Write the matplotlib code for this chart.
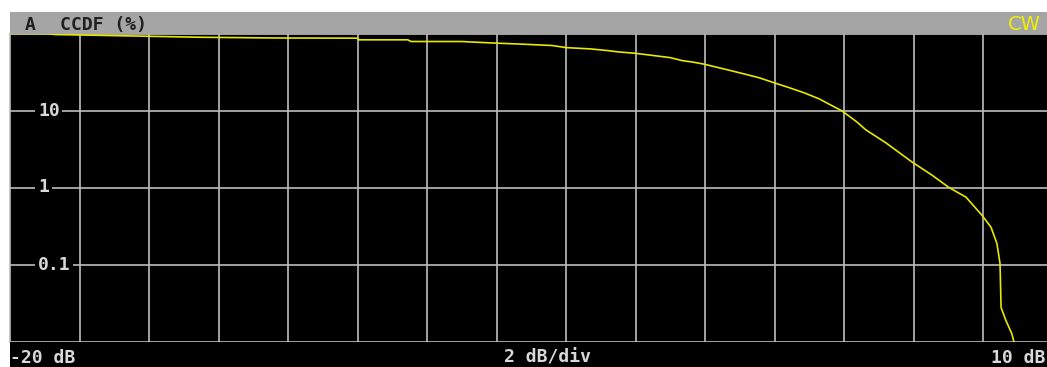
import matplotlib
matplotlib.use("Agg")
import matplotlib.pyplot as plt
from matplotlib.patches import Rectangle

# CCDF trace, level relative to mean power (dB) vs probability (%)
ccdf_db = [-20.0, -18.9, -18.7, -16.4, -14.6, -12.3, -10.0, -9.96, -8.55, -8.46,
           -7.0, -6.2, -5.2, -4.4, -4.0, -3.3, -2.8, -2.5, -2.0, -1.7,
           -1.4, -1.0, -0.66, -0.32, -0.03, 0.55, 0.98, 1.55, 1.99, 2.42,
           2.85, 3.28, 3.71, 3.94, 4.37, 4.63, 5.21, 5.96, 6.53, 7.02,
           7.51, 7.97, 8.23, 8.40, 8.49, 8.52, 8.66, 8.83, 8.89]
ccdf_pct = [100, 99.1, 97.0, 92.8, 89.5, 87.4, 87.0, 82.8, 82.8, 78.7,
            78.7, 75.6, 72.5, 69.8, 65.6, 63.1, 60.0, 57.7, 55.3, 53.2,
            51.2, 48.6, 44.5, 42.3, 40.0, 34.6, 31.0, 26.7, 22.9, 19.8,
            17.0, 14.2, 11.2, 9.9, 7.1, 5.6, 3.79, 2.14, 1.45, 1.0,
            0.75, 0.436, 0.305, 0.188, 0.103, 0.0276, 0.0187, 0.0126, 0.0099]

y_ticks = [10, 1, 0.1]
y_tick_labels = ["10", "1", "0.1"]
x_start, x_stop, x_div = -20, 10, 2

W, H = 1047, 367
fig = plt.figure(figsize=(W / 100, H / 100), dpi=100, facecolor="white")


def fx(x):
    return x / W


def fy(y):
    return 1 - y / H


grid_col = "#bdbdbd"
text_col = "#d8d8d8"
trace_col = "#e8e800"
font = "DejaVu Sans Mono"

# header bar
fig.patches.append(Rectangle((fx(10), fy(33.5)), fx(1037), 21.5 / H,
                             transform=fig.transFigure, facecolor="#a5a5a5",
                             edgecolor="none", zorder=0))
# footer bar
fig.patches.append(Rectangle((fx(10), 0), fx(1037), (367 - 341.5) / H,
                             transform=fig.transFigure, facecolor="black",
                             edgecolor="none", zorder=0))

ax_w = 15 * 69.5
ax = fig.add_axes([fx(10), fy(341.5), ax_w / W, (341.5 - 33.5) / H])
ax.set_facecolor("black")
ax.set_yscale("log")
ax.set_xlim(x_start, x_stop)
ax.set_ylim(0.01, 100)

# grid: vertical every 2 dB, horizontal per decade
for xv in range(x_start + x_div, x_stop, x_div):
    ax.axvline(xv, color=grid_col, lw=1.2, zorder=1)
for yv in y_ticks:
    ax.axhline(yv, color=grid_col, lw=1.2, zorder=1)

ax.set_xticks([])
ax.set_yticks([])
ax.minorticks_off()
for s in ax.spines.values():
    s.set_color(grid_col)
    s.set_linewidth(1.2)

ax.plot(ccdf_db, ccdf_pct, color=trace_col, lw=1.2, zorder=3)

# level labels sit on the grid lines with a black backing
for yv, lab in zip(y_ticks, y_tick_labels):
    ax.text(28 / ax_w, yv, lab,
            transform=ax.get_yaxis_transform(), ha="left", va="center",
            color=text_col, fontsize=13, family=font, fontweight="bold",
            zorder=4,
            bbox=dict(facecolor="black", edgecolor="none", pad=2))

fig.text(fx(25), fy(24.5), "A", color="#202020", fontsize=13, family=font,
         fontweight="bold", va="center", ha="left")
fig.text(fx(60), fy(24.5), "CCDF (%)", color="#202020", fontsize=13, family=font,
         fontweight="bold", va="center", ha="left")
fig.text(fx(1041), fy(24), "CW", color="#f0f000", fontsize=14,
         family="DejaVu Sans", va="center", ha="right")

fig.text(fx(10), fy(358), "-20 dB", color=text_col, fontsize=13, family=font,
         fontweight="bold", va="center", ha="left")
fig.text(fx(548), fy(358), "2 dB/div", color=text_col, fontsize=13, family=font,
         fontweight="bold", va="center", ha="center")
fig.text(fx(1045), fy(358), "10 dB", color=text_col, fontsize=13, family=font,
         fontweight="bold", va="center", ha="right")

fig.savefig("out.png", dpi=100, facecolor="white")
